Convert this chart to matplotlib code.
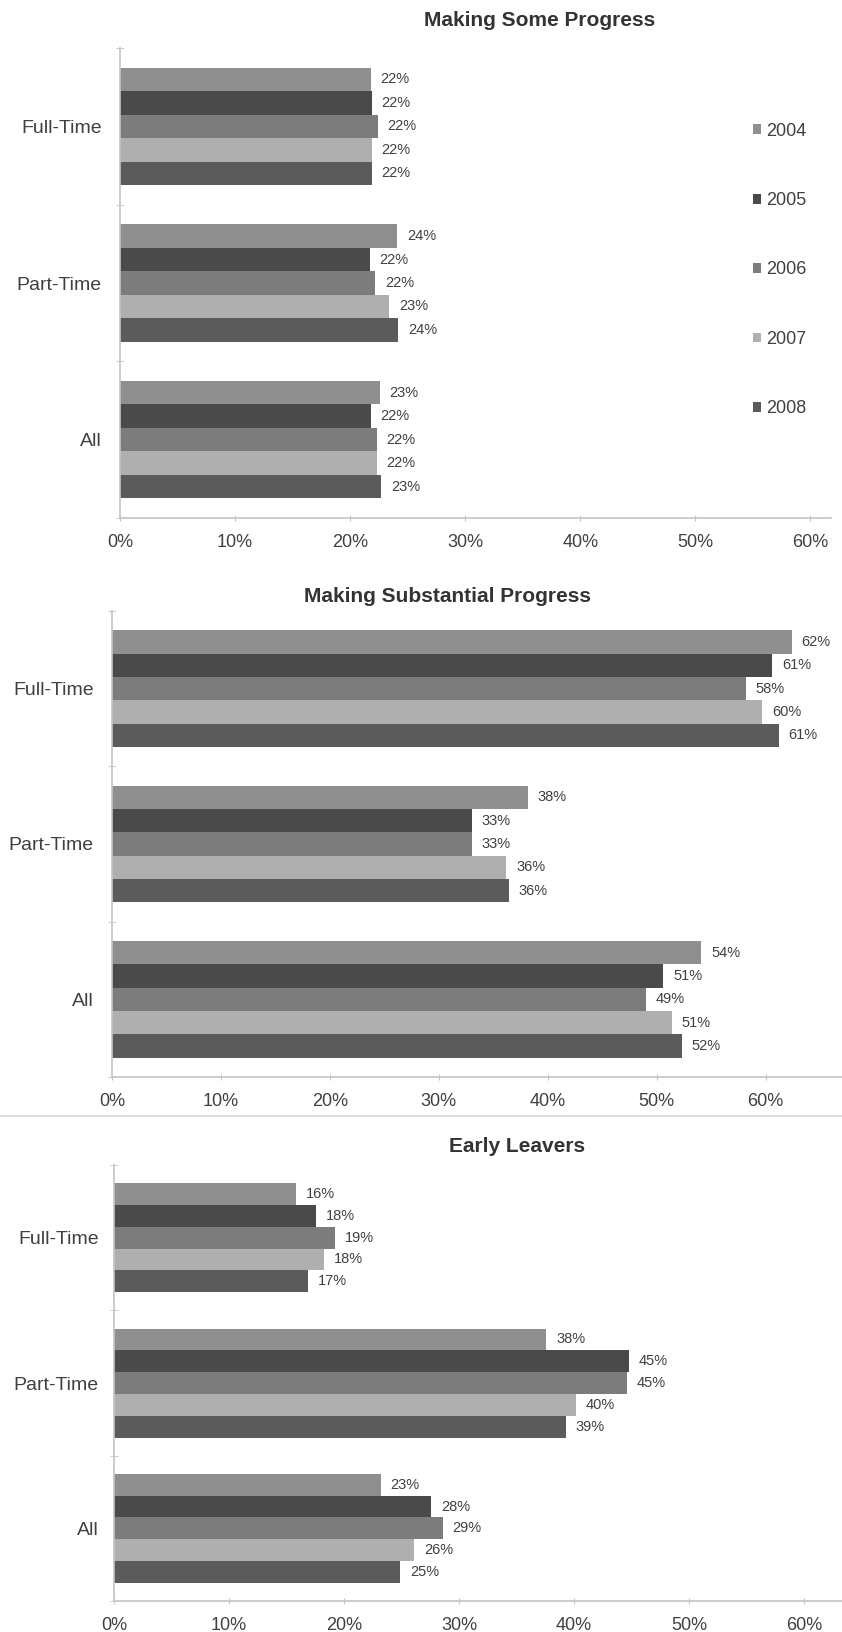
import numpy as np
import matplotlib
matplotlib.use('Agg')
import matplotlib.pyplot as plt
from matplotlib.lines import Line2D

plt.rcParams['font.family'] = ['Liberation Sans', 'DejaVu Sans']

YEARS  = ['2004', '2005', '2006', '2007', '2008']
GROUPS = ['Full-Time', 'Part-Time', 'All']
COLORS = ['#8f8f8f', '#4a4a4a', '#7c7c7c', '#afafaf', '#5b5b5b']
XTICKS = [0, 10, 20, 30, 40, 50, 60]

# percent per group (rows) and year (columns)
SOME_PROGRESS = [[21.8, 21.9, 22.4, 21.9, 21.9],
                 [24.1, 21.7, 22.2, 23.4, 24.2],
                 [22.6, 21.8, 22.3, 22.3, 22.7]]
SUBSTANTIAL   = [[62.4, 60.6, 58.2, 59.7, 61.2],
                 [38.2, 33.0, 33.0, 36.2, 36.4],
                 [54.1, 50.6, 49.0, 51.4, 52.3]]
EARLY_LEAVERS = [[15.8, 17.6, 19.2, 18.3, 16.9],
                 [37.6, 44.8, 44.6, 40.2, 39.3],
                 [23.2, 27.6, 28.6, 26.1, 24.9]]

W, H = 842, 1632
fig = plt.figure(figsize=(W/100, H/100), dpi=100)
AXC = '#c4c4c4'
TXT = '#404040'

def panel(rows, title, left, right, top, bottom, xmax, tx, ty, pad):
    ax = fig.add_axes([left/W, 1-bottom/H, (right-left)/W, (bottom-top)/H])
    h = 0.15
    for k, yr in enumerate(YEARS):
        vals = [r[k] for r in rows]
        y = np.arange(len(GROUPS)) + (k-2)*h
        bars = ax.barh(y, vals, height=h, color=COLORS[k], label=yr, linewidth=0)
        for b, v in zip(bars, vals):
            ax.annotate('%.0f%%' % v, (v, b.get_y()+h/2), xytext=(7, 0),
                        textcoords='offset points', ha='left', va='center',
                        fontsize=10.5, color=TXT)
    ax.set_ylim(2.5, -0.5)
    ax.set_xlim(0, xmax)
    ax.set_xticks(XTICKS)
    ax.set_xticklabels(['%d%%' % t for t in XTICKS])
    ax.set_yticks(range(len(GROUPS)))
    ax.set_yticklabels(GROUPS)
    ax.set_yticks([-0.5, 0.5, 1.5, 2.5], minor=True)
    ax.tick_params(axis='y', which='major', length=0, pad=pad, labelsize=14, labelcolor=TXT)
    ax.tick_params(axis='y', which='minor', length=6, direction='inout', color=AXC)
    ax.tick_params(axis='x', length=5, direction='inout', color=AXC, pad=9,
                   labelsize=13, labelcolor=TXT)
    for s in ['top', 'right']:
        ax.spines[s].set_visible(False)
    for s in ['left', 'bottom']:
        ax.spines[s].set_color(AXC)
        ax.spines[s].set_linewidth(1.2)
    fig.text(tx/W, 1-ty/H, title, ha='center', va='center', fontsize=15,
             fontweight='bold', color='#333333')
    return ax

ax1 = panel(SOME_PROGRESS, 'Making Some Progress', 120, 831, 48, 518, 61.8, 540, 21, 13)
ax2 = panel(SUBSTANTIAL, 'Making Substantial Progress', 112, 842, 611, 1077, 67.0, 447, 597, 13)
ax3 = panel(EARLY_LEAVERS, 'Early Leavers', 114, 842, 1165, 1601, 63.3, 517, 1147, 11)

handles, labels = ax1.get_legend_handles_labels()
fig.legend(handles, labels, loc='center left', bbox_to_anchor=(744/W, 1-270/H),
           frameon=False, fontsize=13, labelcolor=TXT, handlelength=0.45,
           handleheight=0.45, handletextpad=0.3, labelspacing=2.9, borderpad=0)

fig.add_artist(Line2D([0, 1], [1-1116/H]*2, transform=fig.transFigure,
                      color='#dcdcdc', lw=1.5))

fig.savefig('out.png', dpi=100)
